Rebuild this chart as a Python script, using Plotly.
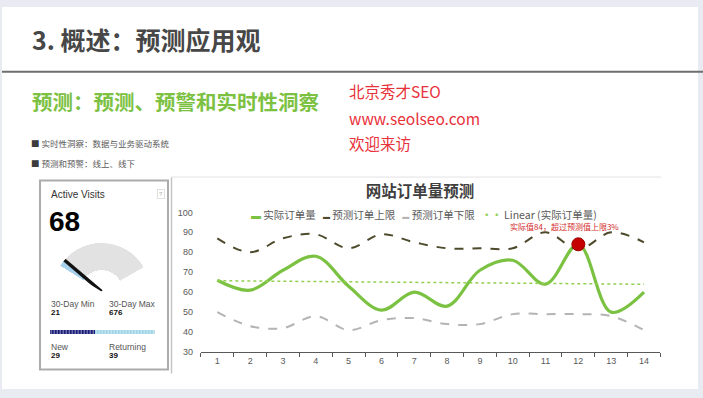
import numpy as np
import plotly.graph_objects as go

# ---------------- data ----------------
days = [str(i) for i in range(1, 15)]
actual = [66, 61, 71, 78, 63, 51, 60, 53, 71, 76, 64, 84, 50, 60]
upper = [87, 80, 87, 89, 82, 89, 85, 82, 82, 82, 90, 81.5, 90, 85]
lower = [50, 43, 42, 48, 41, 46, 47, 44, 44, 49, 49, 49, 48, 41]
y_ticks = [30, 40, 50, 60, 70, 80, 90, 100]
series_names = ["实际订单量", "预测订单上限", "预测订单下限", "Linear (实际订单量)"]
series_colors = ["#7cc242", "#4e4a2c", "#b4b4b4", "#92d050"]
alert_day = "12"
alert_value = 84
alert_text = "实际值84，超过预测值上限3%"

# widget data
active_visits = 68
min30 = 21
max30 = 676
new_visits = 29
returning_visits = 39

# linear trend of actual orders
xi = np.arange(1, len(actual) + 1)
slope, intercept = np.polyfit(xi, actual, 1)
trend = list(slope * xi + intercept)

W, H = 703, 398
def px(x):
    return x / W
def py(y):
    return 1 - y / H

CJK = "Noto Sans CJK SC"
LAT = "Liberation Sans"

fig = go.Figure()

# ---------------- main chart ----------------
fig.add_trace(go.Scatter(x=days, y=actual, name=series_names[0], mode="lines", showlegend=False,
                         line=dict(color=series_colors[0], width=3.2, shape="spline")))
fig.add_trace(go.Scatter(x=days, y=upper, name=series_names[1], mode="lines", showlegend=False,
                         line=dict(color=series_colors[1], width=2, dash="dash", shape="spline")))
fig.add_trace(go.Scatter(x=days, y=lower, name=series_names[2], mode="lines", showlegend=False,
                         line=dict(color=series_colors[2], width=2, dash="dash", shape="spline")))
fig.add_trace(go.Scatter(x=days, y=trend, name=series_names[3], mode="lines", showlegend=False,
                         line=dict(color=series_colors[3], width=1.5, dash="dot")))
fig.add_trace(go.Scatter(x=[alert_day], y=[alert_value], mode="markers", showlegend=False,
                         marker=dict(size=13, color="#c40000", line=dict(color="#a00000", width=1))))

# ---------------- gauge (polar) ----------------
g_start, g_end = 148, 30
hole = 0.44
span = (active_visits - min30) / (max30 - min30) * (g_start - g_end)
needle = g_start - span
fig.add_trace(go.Barpolar(r=[1 - hole], base=[hole], theta=[(g_start + g_end) / 2],
                          width=[g_start - g_end], marker=dict(color="#e2e2e2", line=dict(width=0)),
                          showlegend=False, subplot="polar"))
fig.add_trace(go.Barpolar(r=[1 - hole], base=[hole], theta=[g_start - span / 2],
                          width=[span], marker=dict(color="#a6d2ee", line=dict(width=0)),
                          showlegend=False, subplot="polar"))
fig.add_trace(go.Scatterpolar(r=[0, 1.0], theta=[needle, needle], mode="lines",
                              line=dict(color="#111111", width=3.5), showlegend=False,
                              subplot="polar"))

# ---------------- new / returning bar ----------------
fig.add_trace(go.Bar(x=[new_visits], y=[0], orientation="h", xaxis="x3", yaxis="y3",
                     showlegend=False,
                     marker=dict(color="#1c1f7a", line=dict(width=0),
                                 pattern=dict(shape="|", fgcolor="white", bgcolor="#1c1f7a",
                                              size=3, solidity=0.35))))
fig.add_trace(go.Bar(x=[returning_visits], y=[0], orientation="h", xaxis="x3", yaxis="y3",
                     showlegend=False,
                     marker=dict(color="#9fd3e6", line=dict(width=0),
                                 pattern=dict(shape="|", fgcolor="white", bgcolor="#9fd3e6",
                                              size=3, solidity=0.35))))

shapes = [
    # page frame
    dict(type="rect", xref="paper", yref="paper", x0=px(2), x1=px(698), y0=py(394), y1=py(2),
         fillcolor="white", line=dict(width=0), layer="below"),
    # header rule
    dict(type="line", xref="paper", yref="paper", x0=px(2), x1=px(703), y0=py(68.5), y1=py(68.5),
         line=dict(color="#6e6e6e", width=2)),
    # chart frame lines
    dict(type="line", xref="paper", yref="paper", x0=px(171), x1=px(661), y0=py(176.5), y1=py(176.5),
         line=dict(color="#e2e2e2", width=1)),
    dict(type="line", xref="paper", yref="paper", x0=px(171.5), x1=px(171.5), y0=py(177), y1=py(378),
         line=dict(color="#c4c4c4", width=1.5)),
    # card
    dict(type="rect", xref="paper", yref="paper", x0=px(40), x1=px(168), y0=py(374), y1=py(180),
         fillcolor="white", line=dict(color="#ababab", width=2), layer="below"),
]

ann = []
def text(x, y, s, size, color, family=LAT, xanchor="left", bold=False):
    ann.append(dict(x=px(x), y=py(y), xref="paper", yref="paper", text=("<b>%s</b>" % s) if bold else s,
                    showarrow=False, xanchor=xanchor, yanchor="middle",
                    font=dict(size=size, color=color, family=family)))

# header
text(30, 35, "3. 概述：预测应用观", 25, "#474747", CJK, bold=True)
text(30, 98, "预测：预测、预警和实时性洞察", 20.5, "#7cc142", CJK, bold=True)
text(347, 88, "北京秀才SEO", 15.5, "#e8313a", CJK)
text(347, 116, "www.seolseo.com", 15.5, "#e8313a", CJK)
text(347, 142, "欢迎来访", 15.5, "#e8313a", CJK)
text(29, 142, "<span style='color:#3c3c3c'>■</span> 实时性洞察：数据与业务驱动系统", 8.5, "#5a5a5a", CJK)
text(29, 162, "<span style='color:#3c3c3c'>■</span> 预测和预警：线上、线下", 8.5, "#5a5a5a", CJK)

# card texts
text(49, 194, "Active Visits", 10, "#333333")
ann.append(dict(x=px(157), y=py(194), xref="paper", yref="paper", text="?", showarrow=False,
                font=dict(size=6, color="#aaaaaa", family=LAT), bordercolor="#e0e0e0",
                borderwidth=1, borderpad=1))
text(47, 222, str(active_visits), 28, "#000000", bold=True)
text(49, 307, "30-Day Min", 8.5, "#555555")
text(49, 315.5, str(min30), 8, "#111111", bold=True)
text(107, 307, "30-Day Max", 8.5, "#555555")
text(107, 315.5, str(max30), 8, "#111111", bold=True)
text(49, 351, "New", 8.5, "#555555")
text(49, 359.5, str(new_visits), 8, "#111111", bold=True)
text(107, 351, "Returning", 8.5, "#555555")
text(107, 359.5, str(returning_visits), 8, "#111111", bold=True)

# legend (rich text line)
samples = ["<b>▬</b>", "▬", "▬", "<b>··</b>"]
sample_sizes = [10, 7, 7, 10]
parts = []
for nm, col, smp, ss in zip(series_names, series_colors, samples, sample_sizes):
    parts.append("<span style='color:%s;font-size:%dpx'>%s</span>\u00a0%s" % (col, ss, smp, nm))
legend_text = "\u00a0\u00a0\u00a0".join(parts)
text(424, 215, legend_text, 10.5, "#595959", CJK, xanchor="center")

# alert annotation
text(564, 227.5, alert_text, 8, "#d42a2a", CJK, xanchor="center")

fig.update_layout(
    width=W, height=H,
    margin=dict(l=0, r=0, t=0, b=0),
    paper_bgcolor="#e8ecf2",
    plot_bgcolor="rgba(0,0,0,0)",
    barmode="stack", bargap=0,
    showlegend=False,
    title=dict(text="<b>网站订单量预测</b>", x=px(420), y=py(191.5), xref="paper", yref="paper",
               xanchor="center", yanchor="middle",
               font=dict(size=15.5, color="#3f3f3f", family=CJK)),
    xaxis=dict(domain=[px(200.9), px(660.4)], type="category", range=[-0.5, 13.5],
               tickson="boundaries", ticks="outside", ticklen=4, tickcolor="#595959",
               showline=True, linecolor="#595959", linewidth=1, showgrid=False, zeroline=False,
               tickfont=dict(size=9, color="#595959", family=LAT)),
    yaxis=dict(domain=[py(356), py(212.7)], range=[30, 100], tickvals=y_ticks,
               showgrid=False, zeroline=False, showline=False, ticks="",
               ticklabelstandoff=7,
               tickfont=dict(size=9, color="#595959", family=LAT)),
    xaxis3=dict(domain=[px(49.7), px(154.7)], range=[0, new_visits + returning_visits],
                visible=False, anchor="y3"),
    yaxis3=dict(domain=[py(337.5), py(333)], range=[-0.5, 0.5], visible=False, anchor="x3"),
    polar=dict(domain=dict(x=[px(59.1), px(144.8)], y=[py(294), py(244)]),
               sector=[g_end, g_start], hole=0, bgcolor="rgba(0,0,0,0)",
               angularaxis=dict(visible=False, rotation=0, direction="counterclockwise"),
               radialaxis=dict(visible=False, range=[0, 1])),
    shapes=shapes,
    annotations=ann,
)

fig.write_html("out.html", config={"displayModeBar": False},
               post_script="document.body.style.margin='0';document.body.style.overflow='hidden';")
